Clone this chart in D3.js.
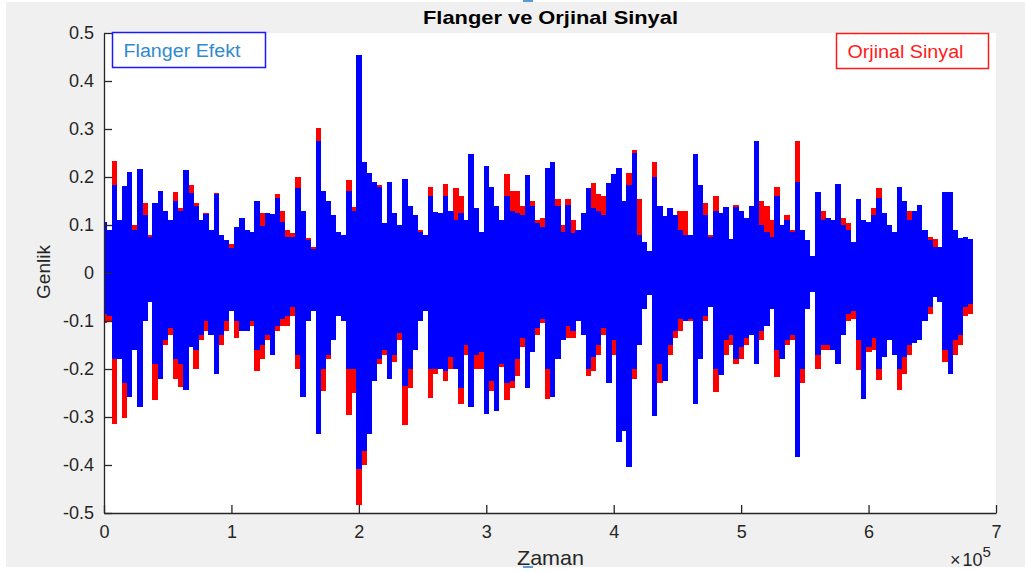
<!DOCTYPE html>
<html>
<head>
<meta charset="utf-8">
<script src="https://cdn.jsdelivr.net/npm/d3@7"></script>
<style>
  html, body { margin: 0; padding: 0; background: #ffffff; }
  svg { display: block; }
  text { font-family: "Liberation Sans", Arial, Helvetica, sans-serif; }
</style>
</head>
<body>
<svg id="chart" width="1025" height="572"></svg>
<script>
// Envelope of both signals, one value per block of 4000 samples
const blockSize = 4000;

// Flanger effect (blue) – upper and lower envelope
const flangerUpper = [
  0.107,0.09,0.184,0.11,0.182,0.21,0.09,0.217,0.12,0.075,
  0.145,0.17,0.13,0.11,0.149,0.13,0.214,0.166,0.14,0.11,
  0.123,0.09,0.165,0.08,0.068,0.052,0.095,0.115,0.09,0.086,
  0.151,0.097,0.125,0.122,0.156,0.107,0.076,0.076,0.177,0.13,
  0.069,0.05,0.274,0.17,0.15,0.12,0.085,0.08,0.17,0.13,
  0.455,0.232,0.208,0.19,0.18,0.105,0.19,0.125,0.1,0.195,
  0.14,0.12,0.085,0.08,0.16,0.128,0.125,0.16,0.13,0.11,
  0.125,0.11,0.248,0.135,0.085,0.222,0.18,0.14,0.11,0.16,
  0.13,0.125,0.12,0.205,0.14,0.105,0.095,0.218,0.232,0.14,
  0.085,0.142,0.083,0.09,0.125,0.177,0.135,0.13,0.12,0.187,
  0.206,0.218,0.149,0.184,0.25,0.08,0.064,0.045,0.2,0.14,
  0.118,0.135,0.12,0.09,0.08,0.08,0.248,0.184,0.12,0.075,
  0.13,0.125,0.138,0.07,0.138,0.13,0.115,0.14,0.274,0.1,
  0.085,0.075,0.16,0.1,0.11,0.085,0.19,0.09,0.068,0.035,
  0.168,0.11,0.115,0.11,0.185,0.1,0.09,0.065,0.154,0.11,
  0.107,0.12,0.156,0.125,0.1,0.085,0.18,0.15,0.11,0.13,
  0.142,0.09,0.068,0.055,0.055,0.168,0.168,0.09,0.072,0.075,
  0.07
];
const flangerLower = [
  -0.085,-0.09,-0.18,-0.18,-0.23,-0.258,-0.16,-0.28,-0.1,-0.06,
  -0.19,-0.22,-0.14,-0.115,-0.18,-0.19,-0.244,-0.155,-0.16,-0.13,
  -0.1,-0.13,-0.21,-0.13,-0.1,-0.08,-0.1,-0.12,-0.12,-0.1,
  -0.16,-0.15,-0.13,-0.17,-0.11,-0.095,-0.09,-0.07,-0.17,-0.258,
  -0.1,-0.08,-0.335,-0.2,-0.17,-0.14,-0.09,-0.1,-0.2,-0.2,
  -0.408,-0.37,-0.335,-0.225,-0.18,-0.16,-0.22,-0.17,-0.125,-0.235,
  -0.2,-0.16,-0.1,-0.08,-0.2,-0.2,-0.2,-0.205,-0.175,-0.2,
  -0.24,-0.15,-0.28,-0.17,-0.165,-0.293,-0.225,-0.287,-0.19,-0.23,
  -0.225,-0.18,-0.135,-0.24,-0.165,-0.115,-0.095,-0.2,-0.258,-0.18,
  -0.14,-0.11,-0.12,-0.1,-0.13,-0.2,-0.175,-0.15,-0.115,-0.23,
  -0.14,-0.352,-0.33,-0.404,-0.2,-0.15,-0.075,-0.045,-0.298,-0.19,
  -0.224,-0.15,-0.12,-0.095,-0.1,-0.095,-0.272,-0.18,-0.09,-0.07,
  -0.2,-0.213,-0.14,-0.13,-0.18,-0.155,-0.135,-0.13,-0.19,-0.12,
  -0.11,-0.075,-0.16,-0.18,-0.14,-0.13,-0.384,-0.2,-0.075,-0.04,
  -0.17,-0.15,-0.15,-0.16,-0.19,-0.13,-0.085,-0.08,-0.14,-0.262,
  -0.155,-0.135,-0.2,-0.175,-0.14,-0.17,-0.2,-0.175,-0.15,-0.145,
  -0.14,-0.1,-0.07,-0.05,-0.06,-0.16,-0.21,-0.14,-0.13,-0.07,
  -0.065
];

// Original signal (red) – upper and lower envelope
const originalUpper = [
  0.107,0.09,0.234,0.11,0.182,0.21,0.10,0.217,0.145,0.08,
  0.145,0.17,0.13,0.11,0.168,0.135,0.214,0.184,0.145,0.11,
  0.125,0.09,0.167,0.08,0.068,0.06,0.095,0.115,0.09,0.086,
  0.151,0.126,0.125,0.122,0.165,0.13,0.09,0.083,0.2,0.13,
  0.072,0.055,0.302,0.17,0.15,0.12,0.085,0.08,0.193,0.138,
  0.332,0.232,0.208,0.19,0.184,0.105,0.19,0.125,0.1,0.195,
  0.14,0.12,0.09,0.08,0.18,0.128,0.125,0.185,0.13,0.177,
  0.16,0.11,0.248,0.135,0.085,0.222,0.18,0.14,0.11,0.207,
  0.17,0.17,0.14,0.205,0.15,0.11,0.115,0.218,0.232,0.155,
  0.1,0.154,0.11,0.09,0.125,0.177,0.187,0.165,0.16,0.187,
  0.206,0.218,0.149,0.208,0.257,0.155,0.064,0.045,0.232,0.14,
  0.118,0.135,0.12,0.13,0.13,0.08,0.248,0.184,0.145,0.08,
  0.16,0.125,0.138,0.07,0.142,0.13,0.115,0.14,0.274,0.15,
  0.14,0.11,0.18,0.1,0.12,0.09,0.274,0.09,0.068,0.035,
  0.168,0.13,0.115,0.11,0.185,0.115,0.105,0.065,0.154,0.11,
  0.107,0.135,0.177,0.125,0.1,0.085,0.18,0.15,0.13,0.13,
  0.142,0.09,0.075,0.07,0.055,0.168,0.168,0.09,0.072,0.075,
  0.07
];
const originalLower = [
  -0.105,-0.1,-0.315,-0.18,-0.303,-0.23,-0.16,-0.27,-0.1,-0.06,
  -0.265,-0.22,-0.15,-0.13,-0.22,-0.237,-0.2,-0.155,-0.2,-0.14,
  -0.12,-0.13,-0.21,-0.15,-0.12,-0.08,-0.135,-0.12,-0.12,-0.11,
  -0.205,-0.18,-0.14,-0.16,-0.12,-0.11,-0.11,-0.09,-0.2,-0.16,
  -0.1,-0.08,-0.3,-0.245,-0.18,-0.14,-0.09,-0.1,-0.296,-0.25,
  -0.484,-0.4,-0.3,-0.225,-0.19,-0.17,-0.2,-0.185,-0.14,-0.317,
  -0.24,-0.16,-0.1,-0.08,-0.26,-0.21,-0.16,-0.225,-0.2,-0.155,
  -0.272,-0.17,-0.22,-0.2,-0.2,-0.285,-0.245,-0.23,-0.195,-0.265,
  -0.24,-0.215,-0.155,-0.2,-0.165,-0.13,-0.105,-0.262,-0.25,-0.18,
  -0.14,-0.135,-0.135,-0.1,-0.13,-0.215,-0.205,-0.17,-0.13,-0.19,
  -0.17,-0.2,-0.2,-0.2,-0.22,-0.15,-0.075,-0.045,-0.272,-0.23,
  -0.185,-0.17,-0.135,-0.12,-0.1,-0.1,-0.24,-0.18,-0.1,-0.07,
  -0.248,-0.2,-0.17,-0.15,-0.19,-0.18,-0.15,-0.13,-0.16,-0.14,
  -0.11,-0.075,-0.216,-0.17,-0.15,-0.14,-0.25,-0.23,-0.075,-0.04,
  -0.2,-0.16,-0.16,-0.16,-0.17,-0.13,-0.1,-0.095,-0.203,-0.2,
  -0.165,-0.16,-0.223,-0.175,-0.14,-0.15,-0.244,-0.21,-0.17,-0.145,
  -0.14,-0.1,-0.085,-0.05,-0.06,-0.185,-0.17,-0.17,-0.15,-0.09,
  -0.085
];

// Axis ticks and labels
const xTickValues = [0, 100000, 200000, 300000, 400000, 500000, 600000, 700000];
const xTickLabels = ["0", "1", "2", "3", "4", "5", "6", "7"];
const yTickValues = [0.5, 0.4, 0.3, 0.2, 0.1, 0, -0.1, -0.2, -0.3, -0.4, -0.5];
const yTickLabels = ["0.5", "0.4", "0.3", "0.2", "0.1", "0", "-0.1", "-0.2", "-0.3", "-0.4", "-0.5"];

const titleText = "Flanger ve Orjinal Sinyal";
const xLabelText = "Zaman";
const yLabelText = "Genlik";
const legendFlanger = "Flanger Efekt";
const legendOriginal = "Orjinal Sinyal";

const W = 1025, H = 572;
const margin = { left: 104, right: 996, top: 33, bottom: 513 };
const axisColor = "#262626";

const svg = d3.select("#chart");

// figure background
svg.append("rect").attr("x", 0).attr("y", 0).attr("width", W).attr("height", H).attr("fill", "#ffffff");
svg.append("rect").attr("x", 6).attr("y", 2).attr("width", W - 6).attr("height", 565).attr("fill", "#f0f0f0");

// axes background
svg.append("rect")
  .attr("x", margin.left).attr("y", margin.top)
  .attr("width", margin.right - margin.left).attr("height", margin.bottom - margin.top)
  .attr("fill", "#ffffff");

const x = d3.scaleLinear().domain([0, 700000]).range([margin.left, margin.right]);
const y = d3.scaleLinear().domain([-0.5, 0.5]).range([margin.bottom, margin.top]);

svg.append("clipPath").attr("id", "plotClip")
  .append("rect")
  .attr("x", margin.left).attr("y", margin.top)
  .attr("width", margin.right - margin.left).attr("height", margin.bottom - margin.top);

const plot = svg.append("g").attr("clip-path", "url(#plotClip)");

// one vertical stroke per block, spanning the block's min..max
function drawEnvelope(upper, lower, color) {
  const blocks = upper.map((u, i) => ({ t: i * blockSize, hi: u, lo: lower[i] }));
  const w = x(blockSize) - x(0);
  plot.append("g")
    .selectAll("rect")
    .data(blocks)
    .join("rect")
    .attr("x", d => x(d.t) - w / 2)
    .attr("width", w + 0.4)
    .attr("y", d => y(d.hi))
    .attr("height", d => y(d.lo) - y(d.hi))
    .attr("fill", color)
    .attr("shape-rendering", "crispEdges");
}

// original drawn first, flanger on top
drawEnvelope(originalUpper, originalLower, "#ff0000");
drawEnvelope(flangerUpper, flangerLower, "#0000ff");

// y axis
const yAxis = d3.axisLeft(y)
  .tickValues(yTickValues)
  .tickFormat((d, i) => yTickLabels[i])
  .tickSizeInner(-8)
  .tickSizeOuter(0)
  .tickPadding(10);
const gy = svg.append("g").attr("transform", `translate(${margin.left},0)`).call(yAxis);

// x axis
const xAxis = d3.axisBottom(x)
  .tickValues(xTickValues)
  .tickFormat((d, i) => xTickLabels[i])
  .tickSizeInner(-8)
  .tickSizeOuter(0)
  .tickPadding(12);
const gx = svg.append("g").attr("transform", `translate(0,${margin.bottom})`).call(xAxis);

[gx, gy].forEach(g => {
  g.select(".domain").attr("stroke", axisColor).attr("stroke-width", 1.3);
  g.selectAll(".tick line").attr("stroke", axisColor).attr("stroke-width", 1.3);
  g.selectAll(".tick text")
    .attr("fill", axisColor)
    .style("font-size", "18px")
    .style("font-family", "'Liberation Sans', Arial, sans-serif");
});

// title
svg.append("text")
  .attr("x", 423).attr("y", 24)
  .attr("fill", "#000000")
  .attr("textLength", 255)
  .attr("lengthAdjust", "spacingAndGlyphs")
  .style("font-size", "19px")
  .style("font-weight", "bold")
  .text(titleText);

// axis labels
svg.append("text")
  .attr("x", 517).attr("y", 565)
  .attr("fill", axisColor)
  .attr("textLength", 67)
  .attr("lengthAdjust", "spacingAndGlyphs")
  .style("font-size", "21px")
  .text(xLabelText);

svg.append("text")
  .attr("transform", "translate(50,272) rotate(-90)")
  .attr("text-anchor", "middle")
  .attr("fill", axisColor)
  .style("font-size", "19px")
  .text(yLabelText);

// exponent marker
const expG = svg.append("text")
  .attr("x", 950).attr("y", 566)
  .attr("fill", axisColor)
  .style("font-size", "18px");
expG.append("tspan").text("\u00d7");
expG.append("tspan").attr("dx", 2).text("10");
expG.append("tspan").attr("dy", -9).style("font-size", "15px").text("5");

// legends
function legendBox(x0, y0, w, h, border, textColor, label, textW) {
  svg.append("rect")
    .attr("x", x0).attr("y", y0).attr("width", w).attr("height", h)
    .attr("fill", "#ffffff").attr("stroke", border).attr("stroke-width", 1.5);
  svg.append("text")
    .attr("x", x0 + 11).attr("y", y0 + 24)
    .attr("fill", textColor)
    .attr("textLength", textW)
    .attr("lengthAdjust", "spacingAndGlyphs")
    .style("font-size", "18px")
    .text(label);
}
legendBox(112.5, 32.5, 153, 35, "#1a1aff", "#2f8ad0", legendFlanger, 117);
legendBox(836.5, 33.5, 152, 35, "#ff1a1a", "#ff1a1a", legendOriginal, 116);

// small selection markers
svg.append("rect").attr("x", 523).attr("y", 0).attr("width", 10).attr("height", 2).attr("fill", "#5b9bd5");
svg.append("rect").attr("x", 523).attr("y", 566).attr("width", 10).attr("height", 2).attr("fill", "#5b9bd5");
</script>
</body>
</html>
